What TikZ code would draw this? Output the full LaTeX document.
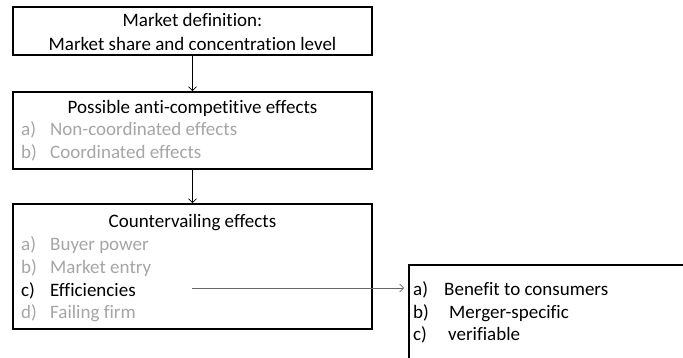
\documentclass[tikz,border=0pt]{standalone}
\usepackage{fontspec}
\setmainfont[Ligatures=NoCommon]{Carlito}
\usetikzlibrary{arrows.meta}
\begin{document}
\begin{tikzpicture}[x=1pt,y=1pt,
  box/.style={draw=black, line width=1.6pt, rectangle, inner sep=0pt},
  txt/.style={inner sep=0pt, anchor=base west, font=\fontsize{19}{22}\selectfont},
  ttl/.style={inner sep=0pt, anchor=base, font=\fontsize{19}{22}\selectfont},
  dim/.style={text=black!35},
  conn/.style={line width=0.7pt, -{Straight Barb[length=4pt,width=8pt]}}]
\useasboundingbox (0,0) rectangle (683,-358);
\clip (0,0) rectangle (683,-358);
\fill[white] (0,0) rectangle (683,-358);
% boxes
\node[box, minimum width=359pt, minimum height=48pt] (b1) at (192.5,-31) {};
\node[box, minimum width=359pt, minimum height=77pt] (b2) at (192.5,-130.5) {};
\node[box, minimum width=359pt, minimum height=125pt] (b3) at (192.5,-266.5) {};
\node[box, minimum width=320pt, minimum height=130pt, anchor=north west] (b4) at (408,-264) {};
% box 1 text
\node[ttl] (t1a) at (192.5,-26.5) {Market definition:};
\node[ttl] (t1b) at (192.5,-50.5) {Market share and concentration level};
% box 2 text
\node[ttl] (t2) at (192.5,-114) {Possible anti-competitive effects};
\node[txt,dim] (t2a) at (21,-136) {a)};
\node[txt,dim] (t2at) at (50,-136) {Non-coordinated effects};
\node[txt,dim] (t2b) at (21,-159) {b)};
\node[txt,dim] (t2bt) at (50,-159) {Coordinated effects};
% box 3 text
\node[ttl] (t3) at (192.5,-228) {Countervailing effects};
\node[txt,dim] (t3a) at (21,-251) {a)};
\node[txt,dim] (t3at) at (50,-251) {Buyer power};
\node[txt,dim] (t3b) at (21,-274) {b)};
\node[txt,dim] (t3bt) at (50,-274) {Market entry};
\node[txt] (t3c) at (21,-296) {c)};
\node[txt] (t3ct) at (50,-296) {Efficiencies};
\node[txt,dim] (t3d) at (21,-319) {d)};
\node[txt,dim] (t3dt) at (50,-319) {Failing firm};
% box 4 text
\node[txt] (t4a) at (413,-295) {a)};
\node[txt] (t4at) at (444,-295) {Benefit to consumers};
\node[txt] (t4b) at (413,-318) {b)};
\node[txt] (t4bt) at (449,-318) {Merger-specific};
\node[txt] (t4c) at (413,-340) {c)};
\node[txt] (t4ct) at (448,-340) {verifiable};
% connectors
\draw[conn] (b1.south) -- (b2.north);
\draw[conn] (b2.south) -- (b3.north);
\coordinate (effs) at (192,-288);
\coordinate (effe) at (404,-288);
\draw[conn, draw=black!60] (effs) -- (effe);
\end{tikzpicture}
\end{document}
